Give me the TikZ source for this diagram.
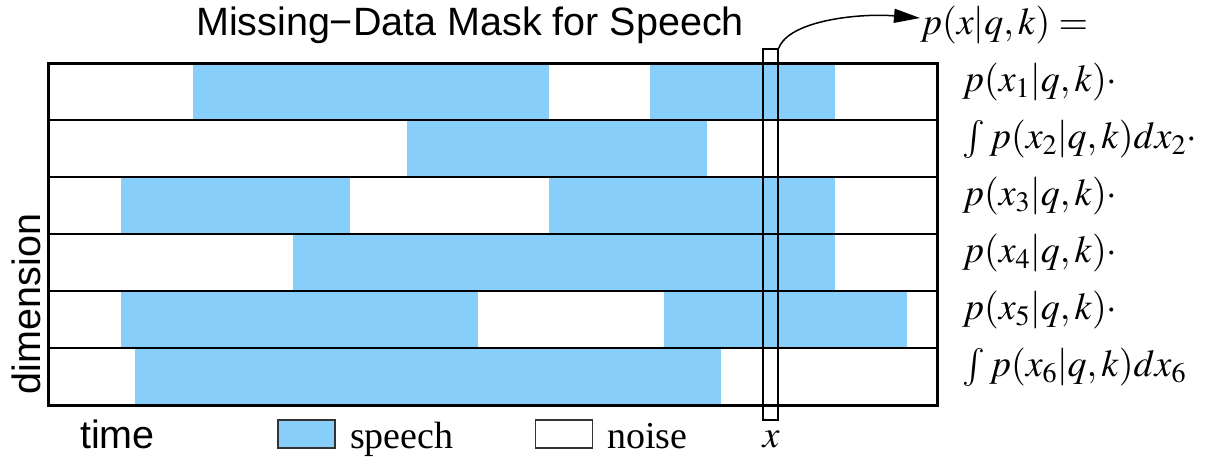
\documentclass[tikz,border=0pt]{standalone}
\usepackage{mathptmx}
\usepackage[no-math]{fontspec}
\setmainfont{Liberation Serif}
\newfontfamily\labelsans{Liberation Sans}
\usetikzlibrary{arrows.meta}
\definecolor{speechblue}{RGB}{135,206,250}
\begin{document}
\begin{tikzpicture}[x=1pt,y=-1pt,
  speech/.style={fill=speechblue,draw=none},
  rowline/.style={line width=2pt},
  frame/.style={line width=3pt},
  sanslabel/.style={font=\labelsans\fontsize{39.5}{47}\selectfont, inner sep=0pt},
  serlabel/.style={font=\fontsize{38}{46}\selectfont, inner sep=0pt},
  eq/.style={font=\fontsize{38}{46}\selectfont, inner sep=0pt, anchor=base west},
  legendbox/.style={draw=black!80, line width=1.3pt, minimum width=57pt,
    minimum height=28pt, inner sep=0pt}]
\useasboundingbox (0,0) rectangle (1207,461);

% speech regions of the mask, one row per feature dimension
\fill[speech] (193,63) rectangle (549,120);
\fill[speech] (650,63) rectangle (835,120);
\fill[speech] (407,120) rectangle (707,177);
\fill[speech] (121,177) rectangle (350,234);
\fill[speech] (549,177) rectangle (835,234);
\fill[speech] (293,234) rectangle (835,291);
\fill[speech] (121,291) rectangle (478,348);
\fill[speech] (664,291) rectangle (907,348);
\fill[speech] (135,348) rectangle (721,405);

% row separators and frame
\foreach \yy in {120,177,234,291,348}
  \draw[rowline] (48,\yy) -- (937,\yy);
\draw[frame] (48,63) rectangle (937,405);

% the selected time frame
\node[draw, line width=1.5pt, minimum width=15pt, minimum height=371pt,
  inner sep=0pt] (xcol) at (770.5,234.5) {};

% titles and axis labels
\node[sanslabel, anchor=base] (title) at (470,35) {Missing−Data Mask for Speech};
\node[sanslabel, anchor=base west] (time) at (80,448) {time};
\node[sanslabel, anchor=base, rotate=90] (dim) at (40,304) {dimension};
\node[eq, anchor=base] (xlab) at (771,447) {$x$};

% legend
\node[legendbox, fill=speechblue] (spbox) at (306.5,434) {};
\node[serlabel, anchor=base west] (splab) at (350,448) {speech};
\node[legendbox, fill=white] (nobox) at (564,434) {};
\node[serlabel, anchor=base west] (nolab) at (607,448) {noise};

% likelihood of the frame
\node[eq] (eqtop) at (920,34) {$p(x|q,k) =$};
\node[eq] (eq1) at (962,91.5) {$p(x_1|q,k)\cdot$};
\node[eq] (eq2) at (962,148.5) {$\int p(x_2|q,k)dx_2\cdot$};
\node[eq] (eq3) at (962,205.5) {$p(x_3|q,k)\cdot$};
\node[eq] (eq4) at (962,262.5) {$p(x_4|q,k)\cdot$};
\node[eq] (eq5) at (962,319.5) {$p(x_5|q,k)\cdot$};
\node[eq] (eq6) at (962,376.5) {$\int p(x_6|q,k)dx_6$};

\draw[line width=1.5pt, -{Triangle[length=26pt,width=14pt]}]
  (xcol.north east) .. controls +(10,-28) and +(-60,-5) ..
  ([yshift=16pt]eqtop.base west);
\end{tikzpicture}
\end{document}
